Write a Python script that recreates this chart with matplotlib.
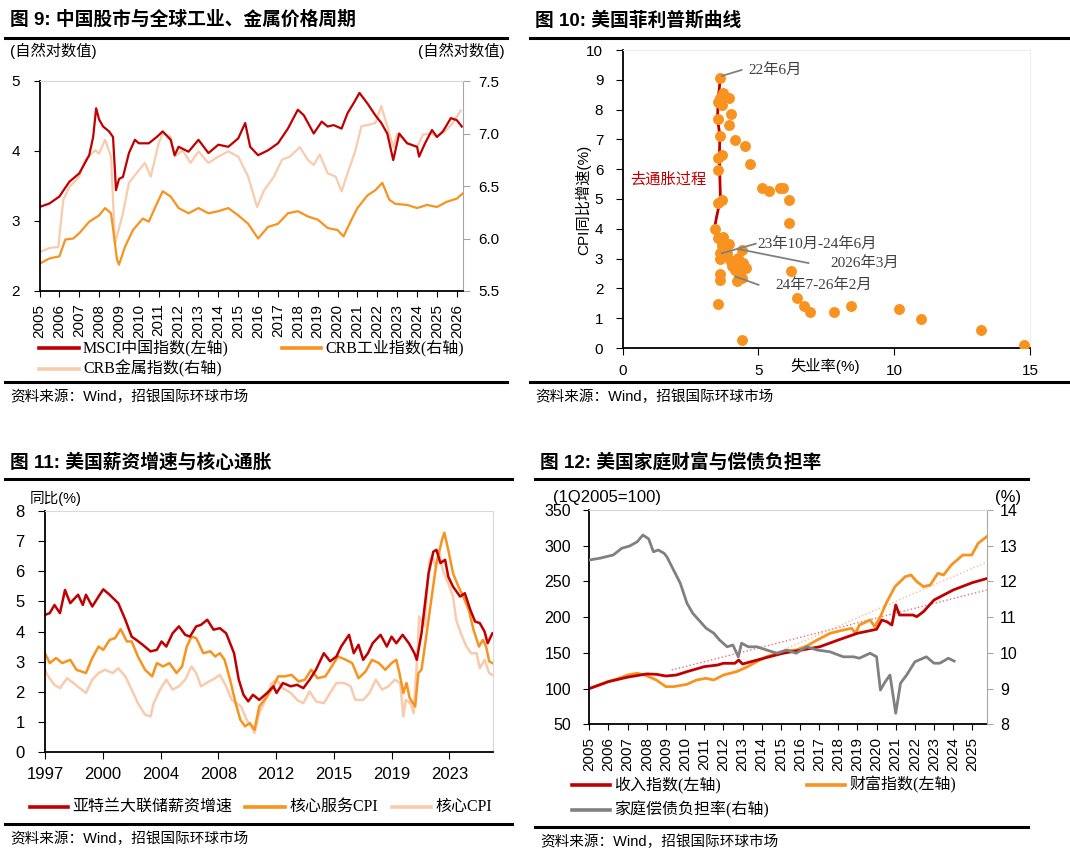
import matplotlib
matplotlib.use('Agg')
import matplotlib.pyplot as plt
from matplotlib.lines import Line2D

plt.rcParams['font.family'] = ['Liberation Sans', 'Noto Sans CJK SC']
plt.rcParams['axes.unicode_minus'] = False

# ---------------- data ----------------
# fig 9 : natural log values
msci_x = [2005.0, 2005.5, 2006.0, 2006.5, 2007.0, 2007.5, 2007.7, 2007.85, 2008.0, 2008.2, 2008.5, 2008.7,
          2008.85, 2009.0, 2009.2, 2009.5, 2009.8, 2010.0, 2010.5, 2010.9, 2011.2, 2011.6, 2011.8, 2012.0,
          2012.5, 2013.0, 2013.5, 2014.0, 2014.5, 2015.0, 2015.35, 2015.6, 2016.0, 2016.5, 2017.0, 2017.5,
          2018.0, 2018.3, 2018.8, 2019.2, 2019.5, 2019.8, 2020.2, 2020.5, 2020.8, 2021.1, 2021.5, 2021.9,
          2022.2, 2022.5, 2022.8, 2023.1, 2023.5, 2024.0, 2024.1, 2024.4, 2024.75, 2025.0, 2025.3, 2025.7,
          2026.0, 2026.25]
msci_v = [3.20, 3.25, 3.35, 3.56, 3.68, 3.94, 4.20, 4.61, 4.45, 4.35, 4.28, 4.20,
          3.44, 3.60, 3.63, 3.97, 4.16, 4.11, 4.11, 4.20, 4.28, 4.16, 3.94, 4.06,
          3.99, 4.16, 3.97, 4.09, 4.06, 4.18, 4.40, 4.06, 3.94, 4.01, 4.11, 4.32,
          4.59, 4.51, 4.25, 4.42, 4.35, 4.37, 4.32, 4.54, 4.68, 4.83, 4.68, 4.51,
          4.40, 4.25, 3.87, 4.25, 4.11, 4.06, 3.92, 4.11, 4.30, 4.20, 4.28, 4.47,
          4.44, 4.35]

metal_x = [2005.0, 2005.5, 2005.95, 2006.05, 2006.2, 2006.5, 2007.0, 2007.3, 2007.8, 2008.0, 2008.3, 2008.6,
           2008.8, 2009.2, 2009.5, 2010.0, 2010.3, 2010.6, 2011.0, 2011.2, 2011.6, 2011.8, 2012.2, 2012.6,
           2013.0, 2013.5, 2014.0, 2014.5, 2015.0, 2015.5, 2015.95, 2016.3, 2016.8, 2017.2, 2017.6, 2018.1,
           2018.5, 2018.8, 2019.1, 2019.5, 2019.9, 2020.2, 2020.5, 2020.9, 2021.2, 2021.5, 2021.9, 2022.2,
           2022.5, 2022.8, 2023.0, 2023.5, 2024.0, 2024.3, 2024.7, 2025.0, 2025.4, 2025.8, 2026.2]
metal_v = [5.87, 5.91, 5.92, 6.11, 6.37, 6.49, 6.59, 6.75, 6.84, 6.81, 6.94, 6.78,
           5.95, 6.24, 6.53, 6.65, 6.72, 6.59, 6.91, 7.00, 6.97, 6.78, 6.84, 6.72,
           6.83, 6.72, 6.78, 6.83, 6.78, 6.59, 6.30, 6.46, 6.59, 6.75, 6.78, 6.87,
           6.75, 6.70, 6.80, 6.62, 6.59, 6.45, 6.62, 6.84, 7.07, 7.08, 7.10, 7.26,
           7.07, 6.87, 7.00, 6.91, 6.87, 6.99, 7.00, 6.97, 7.02, 7.10, 7.22]

ind_x = [2005.0, 2005.5, 2006.0, 2006.3, 2006.7, 2007.0, 2007.5, 2008.0, 2008.3, 2008.6, 2008.9, 2009.0,
         2009.3, 2009.7, 2010.2, 2010.5, 2010.9, 2011.2, 2011.6, 2012.0, 2012.5, 2013.0, 2013.5, 2014.0,
         2014.5, 2015.0, 2015.5, 2016.0, 2016.5, 2017.0, 2017.5, 2018.0, 2018.5, 2019.0, 2019.5, 2020.0,
         2020.3, 2020.7, 2021.0, 2021.5, 2021.9, 2022.25, 2022.6, 2022.9, 2023.5, 2024.0, 2024.5, 2025.0,
         2025.5, 2026.0, 2026.3]
ind_v = [5.76, 5.81, 5.83, 5.99, 6.00, 6.05, 6.16, 6.22, 6.29, 6.24, 5.80, 5.75,
         5.92, 6.08, 6.19, 6.16, 6.33, 6.45, 6.40, 6.29, 6.24, 6.29, 6.24, 6.26,
         6.29, 6.22, 6.14, 6.00, 6.11, 6.14, 6.24, 6.26, 6.21, 6.18, 6.10, 6.08,
         6.02, 6.18, 6.29, 6.41, 6.46, 6.53, 6.37, 6.33, 6.32, 6.29, 6.32, 6.30,
         6.35, 6.38, 6.43]
years9 = list(range(2005, 2027))

# fig 10 : unemployment rate vs CPI yoy
unemp = [3.6, 3.68, 3.9, 3.52, 3.65, 3.6, 4.0, 3.52, 3.9, 3.6, 4.12, 4.5, 3.52, 3.65, 4.69, 3.52,
         5.12, 5.4, 5.8, 5.92, 6.11, 6.11, 3.65, 3.5,
         3.4, 3.5, 3.68, 3.9, 3.65, 3.6, 3.6, 3.83, 3.95, 4.14, 4.26, 4.38, 4.44, 4.01, 4.14, 4.54,
         4.38, 4.2, 4.32, 3.6, 3.6, 6.19, 3.5, 6.41, 6.69, 6.9, 7.78, 8.4, 10.18, 11.0, 13.18, 14.79, 4.38]
cpi = [9.05, 8.55, 8.4, 8.27, 8.16, 8.4, 7.85, 7.69, 7.49, 7.1, 6.98, 6.78, 6.37, 6.48, 6.17, 5.98,
       5.36, 5.27, 5.36, 5.36, 4.97, 4.19, 4.97, 4.86,
       3.99, 3.69, 3.71, 3.5, 3.41, 3.18, 2.98, 3.18, 2.96, 2.85, 3.02, 3.3, 2.85, 2.74, 2.63, 2.68,
       2.35, 2.26, 2.51, 2.49, 2.27, 2.57, 1.47, 1.68, 1.42, 1.2, 1.2, 1.4, 1.31, 0.98, 0.59, 0.1, 0.28]
path_u = [3.6, 3.52, 3.49, 3.58, 3.56, 3.58, 3.6, 3.46, 3.37, 3.58, 3.65]
path_c = [9.1, 8.37, 7.7, 7.12, 6.45, 5.67, 5.0, 4.41, 3.96, 3.41, 3.18]

# fig 11 : yoy %
t0_11 = 1997.4
tick_lbl11 = ['1997', '2000', '2004', '2008', '2012', '2015', '2019', '2023']
wage_x = [1997.4, 1997.7, 1998.0, 1998.35, 1998.67, 1999.0, 1999.5, 1999.8, 2000.0, 2000.4, 2000.8, 2001.1,
          2001.5, 2002.05, 2002.5, 2002.9, 2003.2, 2003.6, 2004.1, 2004.5, 2004.8, 2005.1, 2005.5, 2005.9,
          2006.3, 2006.6, 2007.0, 2007.3, 2007.7, 2008.1, 2008.5, 2008.9, 2009.4, 2009.7, 2010.0, 2010.3,
          2010.6, 2011.0, 2011.5, 2011.9, 2012.1, 2012.5, 2013.0, 2013.4, 2013.8, 2014.2, 2014.6, 2015.1,
          2015.5, 2015.9, 2016.2, 2016.7, 2017.0, 2017.3, 2017.6, 2017.9, 2018.2, 2018.7, 2019.1, 2019.4,
          2019.7, 2020.1, 2020.5, 2020.85, 2021.0, 2021.3, 2021.75, 2022.05, 2022.25, 2022.5, 2022.8, 2023.0,
          2023.3, 2023.75, 2024.05, 2024.4, 2024.7, 2025.0, 2025.3, 2025.5, 2025.8]
wage_v = [4.55, 4.61, 4.88, 4.61, 5.38, 4.94, 5.22, 4.88, 5.22, 4.83, 5.16, 5.40,
          5.22, 4.94, 4.39, 3.83, 3.72, 3.56, 3.34, 3.39, 3.67, 3.50, 3.94, 4.17,
          3.89, 3.83, 4.17, 4.22, 4.39, 4.06, 4.11, 3.94, 3.28, 2.40, 1.90, 1.68,
          1.90, 1.73, 1.96, 2.18, 1.96, 2.29, 2.18, 2.23, 2.12, 2.40, 2.73, 3.28,
          3.01, 3.17, 3.50, 3.89, 3.28, 3.56, 3.06, 3.28, 3.61, 3.89, 3.50, 3.83,
          3.61, 3.89, 3.61, 3.28, 3.06, 3.94, 5.93, 6.65, 6.71, 6.27, 6.38, 5.82,
          5.49, 5.16, 5.27, 4.72, 4.33, 4.28, 4.00, 3.61, 3.94]
svc_x = [1997.4, 1997.7, 1998.1, 1998.5, 1999.0, 1999.4, 2000.0, 2000.4, 2000.8, 2001.1, 2001.5, 2001.85,
         2002.2, 2002.6, 2002.9, 2003.3, 2003.75, 2004.2, 2004.5, 2004.9, 2005.3, 2005.75, 2006.1, 2006.4,
         2006.7, 2007.0, 2007.45, 2007.9, 2008.2, 2008.5, 2008.8, 2009.15, 2009.5, 2009.8, 2010.1, 2010.4,
         2010.7, 2011.0, 2011.5, 2011.9, 2012.2, 2012.6, 2013.05, 2013.5, 2013.9, 2014.3, 2014.7, 2015.2,
         2015.6, 2016.0, 2016.5, 2016.9, 2017.3, 2017.75, 2018.15, 2018.6, 2019.0, 2019.4, 2019.7, 2019.9,
         2020.15, 2020.35, 2020.55, 2020.9, 2021.1, 2021.3, 2021.6, 2021.95, 2022.25, 2022.6, 2022.75, 2023.0,
         2023.3, 2023.65, 2023.95, 2024.3, 2024.6, 2024.95, 2025.2, 2025.4, 2025.6, 2025.8]
svc_v = [3.28, 2.95, 3.12, 2.95, 3.06, 2.73, 2.62, 3.12, 3.50, 3.39, 3.72, 3.78,
         4.08, 3.67, 3.67, 3.17, 2.73, 2.51, 2.95, 2.84, 2.95, 2.62, 2.84, 3.50,
         3.83, 3.78, 3.28, 3.34, 3.17, 3.28, 3.06, 2.40, 1.62, 1.07, 0.85, 0.96,
         0.74, 1.51, 1.85, 2.18, 2.51, 2.51, 2.56, 2.34, 2.40, 2.73, 2.45, 2.51,
         2.84, 3.17, 3.06, 2.95, 2.45, 2.67, 3.06, 2.95, 2.73, 2.95, 3.06, 2.62,
         1.96, 2.29, 1.79, 1.51, 2.62, 2.73, 3.83, 5.16, 6.27, 7.04, 7.28, 6.71,
         5.93, 5.49, 5.16, 4.72, 4.06, 3.50, 3.72, 3.50, 3.01, 2.95]
core_x = [1997.4, 1997.6, 1998.0, 1998.35, 1998.8, 1999.2, 1999.6, 2000.0, 2000.4, 2000.8, 2001.2, 2001.7,
          2002.05, 2002.5, 2002.9, 2003.3, 2003.75, 2004.1, 2004.3, 2004.7, 2005.1, 2005.5, 2005.9, 2006.3,
          2006.7, 2007.0, 2007.3, 2007.8, 2008.2, 2008.5, 2008.9, 2009.25, 2009.55, 2009.85, 2010.2, 2010.5,
          2010.7, 2011.0, 2011.4, 2011.8, 2012.1, 2012.5, 2013.0, 2013.4, 2013.8, 2014.2, 2014.6, 2015.1,
          2015.5, 2015.9, 2016.4, 2016.8, 2017.1, 2017.6, 2018.0, 2018.4, 2018.8, 2019.2, 2019.6, 2019.95,
          2020.15, 2020.3, 2020.6, 2020.8, 2021.05, 2021.15, 2021.5, 2021.8, 2022.0, 2022.2, 2022.45, 2022.65,
          2023.0, 2023.3, 2023.5, 2023.8, 2024.15, 2024.45, 2024.8, 2025.0, 2025.3, 2025.6, 2025.8]
core_v = [2.73, 2.51, 2.23, 2.12, 2.45, 2.29, 2.12, 1.96, 2.40, 2.62, 2.73, 2.62,
          2.78, 2.51, 2.07, 1.62, 1.24, 1.18, 1.62, 2.07, 2.40, 2.07, 2.18, 2.40,
          2.84, 2.62, 2.18, 2.34, 2.45, 2.56, 2.18, 1.73, 1.62, 1.51, 1.07, 0.85,
          0.63, 1.29, 1.73, 2.29, 2.40, 2.12, 1.96, 1.73, 1.62, 2.01, 1.68, 1.62,
          1.96, 2.29, 2.29, 2.18, 1.73, 1.73, 1.96, 2.40, 2.07, 2.18, 2.40, 2.29,
          1.18, 1.73, 1.62, 1.29, 3.28, 4.50, 4.17, 6.38, 6.49, 6.15, 6.60, 6.04,
          5.60, 5.16, 4.39, 3.94, 3.50, 3.28, 3.28, 2.78, 3.06, 2.62, 2.56]

# fig 12 : 1Q2005=100 and %
inc_x = [2005.0, 2006.0, 2007.0, 2008.0, 2008.5, 2009.0, 2009.55, 2010.1, 2011.0, 2011.7, 2012.0, 2012.6,
         2012.8, 2013.0, 2014.1, 2015.1, 2016.1, 2017.05, 2018.0, 2019.0, 2020.0, 2020.27, 2020.53, 2020.8,
         2021.0, 2021.2, 2021.9, 2022.1, 2022.45, 2023.0, 2024.0, 2025.0, 2025.75]
inc_v = [100, 109.7, 116, 120.5, 120, 117.6, 119, 123.7, 130.7, 133, 135.4, 135.4,
         140, 134.4, 142.4, 149.4, 154, 158.7, 168, 177.4, 183, 196, 193.7, 189,
         217, 203, 203, 200.7, 207.7, 224, 238, 248.3, 254]
wealth_x = [2005.0, 2006.0, 2006.4, 2007.0, 2007.5, 2007.9, 2008.5, 2009.0, 2009.4, 2010.1, 2010.6, 2011.1,
            2011.5, 2012.0, 2012.7, 2013.2, 2013.75, 2014.26, 2014.8, 2015.3, 2015.8, 2016.35, 2016.9, 2017.57,
            2018.26, 2018.7, 2018.9, 2019.1, 2019.66, 2019.9, 2020.2, 2020.5, 2020.96, 2021.5, 2021.8, 2022.1,
            2022.45, 2022.8, 2023.2, 2023.5, 2023.9, 2024.5, 2024.97, 2025.3, 2025.75]
wealth_v = [100, 110, 113, 119, 121.4, 119, 112, 102.7, 102.7, 106, 112, 114.4,
            112, 119, 123.7, 129.8, 137.7, 144.7, 149.4, 153, 154, 159.6, 168, 177.4,
            182, 184.4, 177.4, 189, 196, 186.7, 200.7, 219.4, 242.7, 256.7, 259, 249.7,
            242.7, 245, 261.4, 259, 273, 287, 287, 303.3, 312.7]
dsr_x = [2005.0, 2005.55, 2006.25, 2006.7, 2007.1, 2007.5, 2007.8, 2008.1, 2008.35, 2008.6, 2008.9, 2009.05,
         2009.4, 2009.75, 2010.1, 2010.4, 2010.8, 2011.1, 2011.5, 2011.8, 2012.2, 2012.5, 2012.78, 2012.95,
         2013.3, 2013.75, 2014.26, 2014.8, 2015.3, 2015.8, 2016.35, 2016.9, 2017.57, 2018.26, 2018.8, 2019.1,
         2019.66, 2020.0, 2020.2, 2020.45, 2020.7, 2021.0, 2021.25, 2021.57, 2022.0, 2022.6, 2023.0, 2023.3,
         2023.75, 2024.05]
dsr_v = [12.6, 12.65, 12.74, 12.93, 12.99, 13.11, 13.30, 13.19, 12.83, 12.88, 12.79, 12.69,
         12.32, 11.95, 11.39, 11.11, 10.87, 10.69, 10.55, 10.36, 10.17, 10.22, 9.89, 10.27,
         10.17, 10.17, 10.08, 9.99, 10.08, 9.99, 10.17, 10.08, 10.03, 9.89, 9.89, 9.85,
         9.99, 9.89, 8.96, 9.19, 9.38, 8.31, 9.15, 9.38, 9.75, 9.89, 9.71, 9.71,
         9.85, 9.77]
inc_trend_x = [2009.3, 2025.75]
inc_trend_v = [126, 238]
wealth_trend_x = [2012.0, 2025.75]
wealth_trend_v = [118, 277]
years12 = list(range(2005, 2026))

# ---------------- drawing ----------------
W, H = 1070, 859
RED = '#C00000'
ORANGE = '#F7931E'
PEACH = '#F8CBAD'
GRAY = '#808080'
LIGHT = '#D9D9D9'
SERIF = ['Liberation Serif', 'Noto Sans CJK SC']

fig = plt.figure(figsize=(W / 100, H / 100), dpi=100)


def fx(x):
    return x / W


def fy(y):
    return 1 - y / H


def box(x0, y0, x1, y1):
    return [fx(x0), fy(y1), (x1 - x0) / W, (y1 - y0) / H]


def header(x0, x1, y_title, y_top, y_bot, y_src, title):
    fig.text(fx(x0 + 5), fy(y_title), title, fontsize=13.5, fontweight='bold', va='center', ha='left')
    fig.add_artist(Line2D([fx(x0), fx(x1)], [fy(y_top)] * 2, color='black', lw=2.2))
    fig.add_artist(Line2D([fx(x0), fx(x1)], [fy(y_bot)] * 2, color='black', lw=2.2))
    fig.text(fx(x0 + 5), fy(y_src), '资料来源：Wind，招银国际环球市场', fontsize=10.5, va='center')


def leg(x0, x1, y, color, label):
    fig.add_artist(Line2D([fx(x0), fx(x1)], [fy(y)] * 2, color=color, lw=2.6))
    fig.text(fx(x1 + 4), fy(y), label, fontsize=11.5, va='center', family=SERIF)


def frame(ax, right_color=LIGHT):
    ax.spines['top'].set_color(LIGHT)
    ax.spines['right'].set_color(right_color)
    ax.spines['left'].set_linewidth(1.3)
    ax.spines['bottom'].set_linewidth(1.3)


# ----- fig 9 -----
header(5, 507, 20, 38, 382, 397, '图 9: 中国股市与全球工业、金属价格周期')
ax1 = fig.add_axes(box(39.5, 81, 463, 291))
ax1r = ax1.twinx()
ax1r.plot(metal_x, metal_v, color=PEACH, lw=1.6)
ax1r.plot(ind_x, ind_v, color=ORANGE, lw=1.6)
ax1.plot(msci_x, msci_v, color=RED, lw=1.6)
ax1.set_zorder(ax1r.get_zorder() + 1)
ax1.patch.set_visible(False)
ax1.set_xlim(2005, 2026.31)
ax1.set_ylim(2, 5)
ax1.set_yticks([2, 3, 4, 5])
ax1.set_xticks(years9)
ax1.set_xticklabels([str(y) for y in years9], rotation=90)
ax1r.set_ylim(5.5, 7.5)
ax1r.set_yticks([5.5, 6.0, 6.5, 7.0, 7.5])
ax1r.set_yticklabels(['5.5', '6.0', '6.5', '7.0', '7.5'])
frame(ax1)
ax1.spines['right'].set_visible(False)
ax1r.spines['right'].set_color('#A6A6A6')
ax1r.spines['top'].set_color(LIGHT)
for s in ['left', 'bottom']:
    ax1r.spines[s].set_visible(False)
ax1.tick_params(axis='y', direction='out', length=4, pad=10, labelsize=11)
ax1.tick_params(axis='x', direction='out', length=4, pad=5, labelsize=11)
ax1r.tick_params(axis='y', direction='out', length=5, pad=6, labelsize=11, color='#A6A6A6')
fig.text(fx(10), fy(51), '(自然对数值)', fontsize=11, va='center')
fig.text(fx(505), fy(51), '(自然对数值)', fontsize=11, va='center', ha='right')
leg(39, 79, 348, RED, 'MSCI中国指数(左轴)')
leg(282, 321, 348, ORANGE, 'CRB工业指数(右轴)')
leg(39, 79, 369, PEACH, 'CRB金属指数(右轴)')

# ----- fig 10 -----
header(530, 1068, 20, 38, 382, 397, '图 10: 美国菲利普斯曲线')
ax2 = fig.add_axes(box(622.7, 50, 1030, 348))
ax2.plot(path_u, path_c, color=RED, lw=2, zorder=2)
ax2.scatter(unemp, cpi, s=62, color=ORANGE, linewidths=0, zorder=3)
ax2.set_xlim(0, 15)
ax2.set_ylim(0, 10)
ax2.set_xticks([0, 5, 10, 15])
ax2.set_yticks(range(0, 11))
frame(ax2, '#EEEEEE')
ax2.spines['top'].set_color('#EEEEEE')
ax2.tick_params(axis='y', direction='out', length=5, pad=9, labelsize=11)
ax2.tick_params(axis='x', direction='out', length=5, pad=6.5, labelsize=11)
ann = dict(color=GRAY, lw=1.3)
ax2.plot([3.65, 4.38], [9.13, 9.33], **ann, zorder=4)
ax2.text(4.63, 9.33, '22年6月', fontsize=11, va='center', family=SERIF, color='#404040')
ax2.plot([3.65, 4.9], [3.18, 3.5], **ann, zorder=4)
ax2.text(4.97, 3.5, '23年10月-24年6月', fontsize=11, va='center', family=SERIF, color='#404040')
ax2.plot([4.26, 6.84], [3.32, 2.85], **ann, zorder=4)
ax2.text(7.63, 2.85, '2026年3月', fontsize=11, va='center', family=SERIF, color='#404040')
ax2.plot([4.14, 5.0], [2.4, 2.12], **ann, zorder=4)
ax2.text(5.61, 2.12, '24年7-26年2月', fontsize=11, va='center', family=SERIF, color='#404040')
ax2.text(0.27, 5.64, '去通胀过程', fontsize=11, va='center', color=RED)
fig.text(fx(825), fy(366), '失业率(%)', fontsize=11, va='center', ha='center')
fig.text(fx(583), fy(200), 'CPI同比增速(%)', fontsize=11, va='center', ha='center', rotation=90)

# ----- fig 11 -----
header(5, 512, 462, 479, 824, 839, '图 11: 美国薪资增速与核心通胀')
ax3 = fig.add_axes(box(45, 511, 492.7, 752))
ax3.plot(core_x, core_v, color=PEACH, lw=1.8)
ax3.plot(svc_x, svc_v, color=ORANGE, lw=1.8)
ax3.plot(wage_x, wage_v, color=RED, lw=1.8)
ax3.set_xlim(t0_11, 2025.82)
ax3.set_ylim(0, 8)
ax3.set_yticks(range(0, 9))
ax3.set_xticks([t0_11 + k * 11 / 3 for k in range(len(tick_lbl11))])
ax3.set_xticklabels(tick_lbl11)
frame(ax3)
ax3.tick_params(axis='y', direction='out', length=5, pad=9.5, labelsize=12)
ax3.tick_params(axis='x', direction='out', length=5, pad=6, labelsize=12)
fig.text(fx(30), fy(498), '同比(%)', fontsize=10.5, va='center')
leg(30, 68, 807, RED, '亚特兰大联储薪资增速')
leg(245, 285, 807, ORANGE, '核心服务CPI')
leg(392, 431, 807, PEACH, '核心CPI')

# ----- fig 12 -----
header(535, 1028, 462, 479, 827, 842, '图 12: 美国家庭财富与偿债负担率')
ax4 = fig.add_axes(box(589.3, 510, 986.7, 724.3))
ax4.plot(inc_trend_x, inc_trend_v, color='#E57373', lw=1, ls=':')
ax4.plot(wealth_trend_x, wealth_trend_v, color='#F9C08A', lw=1, ls=':')
ax4.plot(wealth_x, wealth_v, color=ORANGE, lw=2)
ax4.plot(inc_x, inc_v, color=RED, lw=2)
ax4r = ax4.twinx()
ax4r.plot(dsr_x, dsr_v, color=GRAY, lw=2)
ax4.set_xlim(2005, 2025.75)
ax4.set_ylim(50, 350)
ax4.set_yticks(range(50, 351, 50))
ax4.set_xticks(years12)
ax4.set_xticklabels([str(y) for y in years12], rotation=90)
ax4r.set_ylim(8, 14)
ax4r.set_yticks(range(8, 15))
frame(ax4)
ax4.spines['right'].set_visible(False)
ax4r.spines['right'].set_color('#A6A6A6')
ax4r.spines['top'].set_color(LIGHT)
for s in ['left', 'bottom']:
    ax4r.spines[s].set_visible(False)
ax4.tick_params(axis='y', direction='out', length=4, pad=9, labelsize=11.5)
ax4.tick_params(axis='x', direction='out', length=4, pad=5, labelsize=11)
ax4r.tick_params(axis='y', direction='out', length=4, pad=5.5, labelsize=11.5, color='#A6A6A6')
fig.text(fx(553), fy(497), '(1Q2005=100)', fontsize=12, va='center')
fig.text(fx(1008), fy(497), '(%)', fontsize=12, va='center', ha='center')
leg(572, 610, 785, RED, '收入指数(左轴)')
leg(807, 845, 785, ORANGE, '财富指数(左轴)')
leg(572, 610, 810, GRAY, '家庭偿债负担率(右轴)')

fig.savefig('out.png', dpi=100)
